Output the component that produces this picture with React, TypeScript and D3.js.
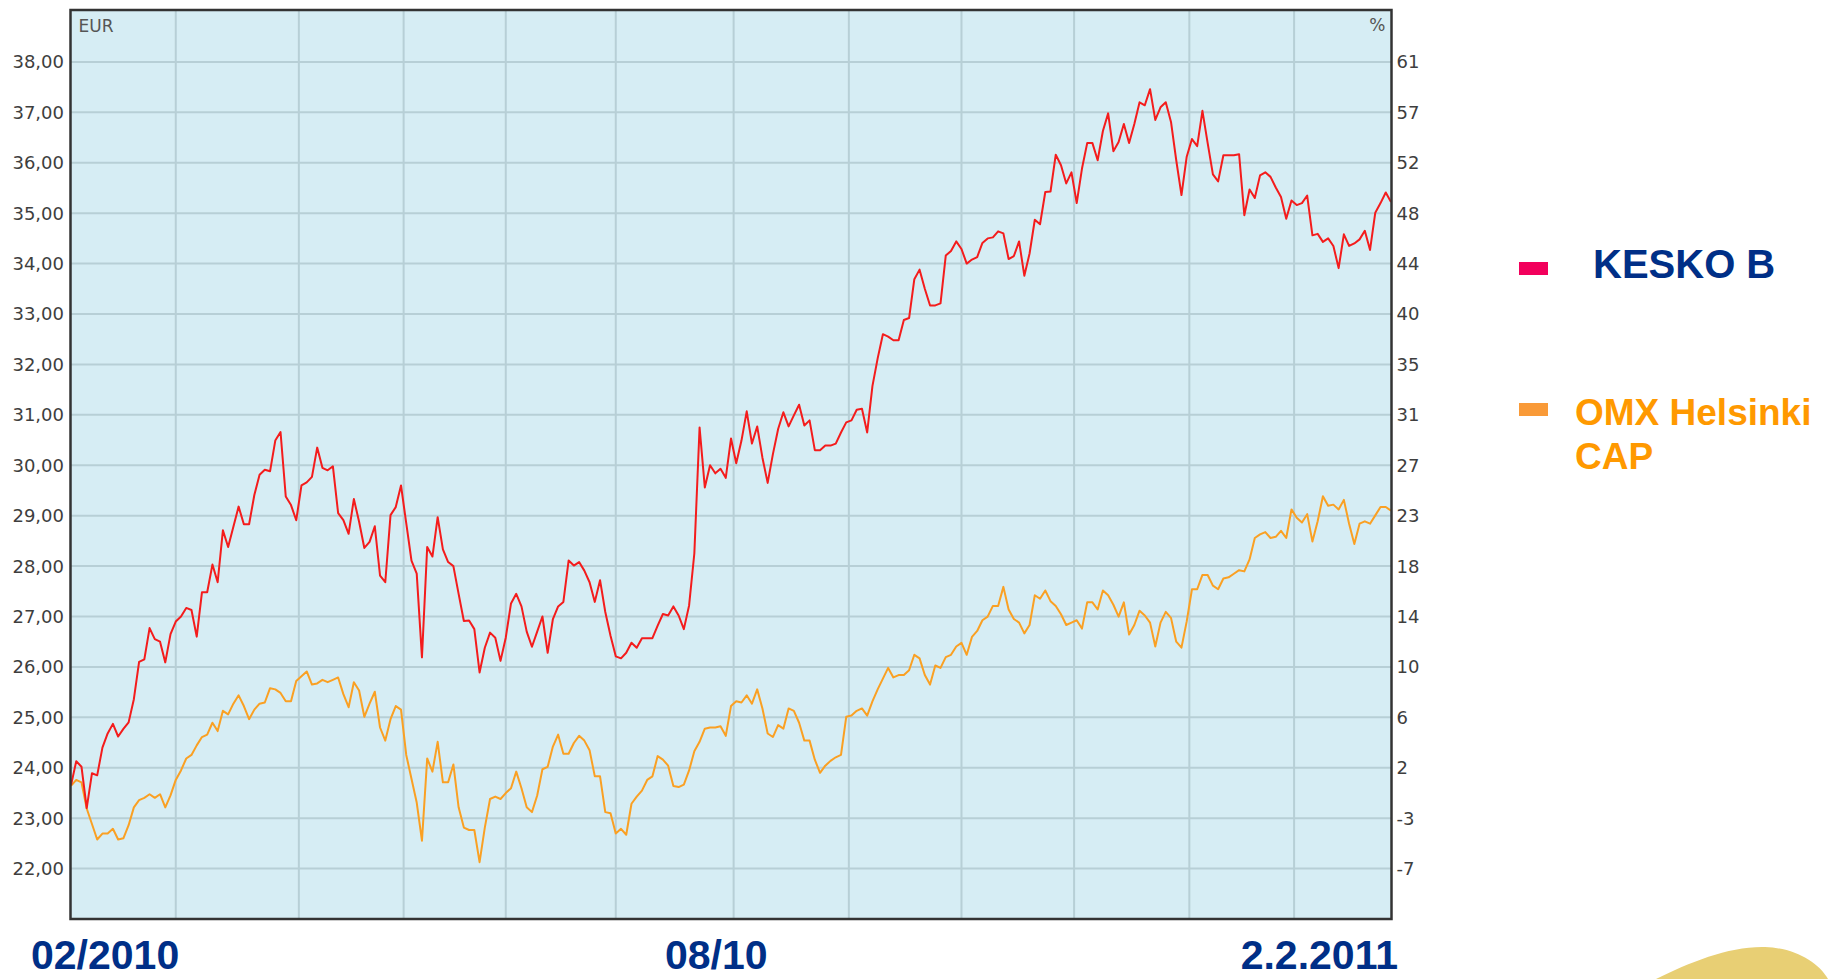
import React from "react";
import * as d3 from "d3";

const width = 1835;
const height = 979;
const plot = { left: 70.5, right: 1391.5, top: 10, bottom: 919 };

// price level that equals 0 % on the right axis
const BASE_PRICE = 23.64;

const eurTicks = [22, 23, 24, 25, 26, 27, 28, 29, 30, 31, 32, 33, 34, 35, 36, 37, 38];
const pctTicks = ["-7", "-3", "2", "6", "10", "14", "18", "23", "27", "31", "35", "40", "44", "48", "52", "57", "61"];

// month boundaries, in trading days from the first point
const monthBreaks = [20, 43.5, 63.5, 83, 104, 126.5, 148.5, 170, 191.5, 213.5, 233.5];

// KESKO B closing price, EUR
const kesko = [
  23.65, 24.13, 24.02, 23.2, 23.89, 23.85, 24.4, 24.68, 24.87, 24.62, 24.77, 24.9, 25.36, 26.1, 26.15, 26.77, 26.55, 26.5, 26.09, 26.65, 26.9, 27.0,
  27.17, 27.13, 26.6, 27.48, 27.48, 28.03, 27.68, 28.71, 28.38, 28.78, 29.18, 28.83, 28.83, 29.41, 29.81, 29.91, 29.88, 30.49, 30.66, 29.38, 29.21, 28.91,
  29.6, 29.66, 29.77, 30.35, 29.95, 29.9, 29.98, 29.05, 28.91, 28.64, 29.33, 28.88, 28.36, 28.48, 28.79, 27.81, 27.68, 29.01, 29.17, 29.6, 28.85, 28.11,
  27.85, 26.19, 28.38, 28.19, 28.97, 28.33, 28.08, 28.0, 27.45, 26.91, 26.92, 26.75, 25.89, 26.38, 26.68, 26.58, 26.12, 26.58, 27.26, 27.45, 27.2,
  26.7, 26.4, 26.7, 27.0, 26.28, 26.95, 27.2, 27.29, 28.11, 28.01, 28.08, 27.91, 27.68, 27.29, 27.72, 27.09, 26.62, 26.21, 26.17, 26.28, 26.48,
  26.38, 26.57, 26.57, 26.57, 26.82, 27.05, 27.02, 27.2, 27.02, 26.75, 27.22, 28.25, 30.75, 29.56, 30.0, 29.84, 29.93, 29.75, 30.53, 30.04,
  30.49, 31.07, 30.43, 30.77, 30.15, 29.65, 30.22, 30.72, 31.05, 30.77, 30.99, 31.2, 30.79, 30.89, 30.3, 30.3, 30.39, 30.39, 30.43, 30.65, 30.85,
  30.89, 31.1, 31.12, 30.65, 31.57, 32.12, 32.6, 32.55, 32.48, 32.48, 32.88, 32.92, 33.69, 33.88, 33.5, 33.17, 33.17, 33.21, 34.16, 34.25, 34.44,
  34.29, 34.0, 34.08, 34.13, 34.41, 34.5, 34.52, 34.64, 34.6, 34.09, 34.15, 34.44, 33.76, 34.2, 34.87, 34.78, 35.42, 35.43, 36.16, 35.95, 35.59,
  35.81, 35.2, 35.88, 36.39, 36.39, 36.05, 36.63, 36.98, 36.23, 36.41, 36.77, 36.39, 36.77, 37.2, 37.14, 37.46, 36.85, 37.1, 37.2, 36.81,
  36.05, 35.36, 36.12, 36.47, 36.33, 37.03, 36.39, 35.77, 35.63, 36.15, 36.15, 36.15, 36.17, 34.96, 35.47, 35.3, 35.75, 35.81, 35.72, 35.51, 35.32,
  34.89, 35.25, 35.16, 35.2, 35.35, 34.56, 34.59, 34.43, 34.5, 34.35, 33.91, 34.58, 34.35, 34.4, 34.48, 34.65, 34.27, 35.01, 35.2, 35.41, 35.22,
];

// OMX Helsinki CAP, change in %
const omxPct = [
  0.0, 0.5, 0.3, -1.9, -3.2, -4.5, -4.0, -4.0, -3.6, -4.5, -4.4, -3.3, -1.8, -1.2, -1.0, -0.7, -1.0, -0.7, -1.8, -0.8, 0.5, 1.3,
  2.3, 2.6, 3.4, 4.1, 4.3, 5.3, 4.6, 6.3, 6.0, 6.9, 7.6, 6.7, 5.6, 6.4, 6.9, 7.0, 8.2, 8.1, 7.8, 7.1, 7.1, 8.8,
  9.2, 9.6, 8.5, 8.6, 8.9, 8.7, 8.9, 9.1, 7.7, 6.6, 8.7, 8.0, 5.8, 6.9, 7.9, 4.9, 3.8, 5.6, 6.7, 6.4, 2.6, 0.6,
  -1.4, -4.6, 2.3, 1.2, 3.7, 0.3, 0.3, 1.8, -1.8, -3.5, -3.7, -3.7, -6.4, -3.5, -1.1, -0.9, -1.1, -0.6, -0.2, 1.2, -0.2,
  -1.8, -2.2, -0.8, 1.4, 1.6, 3.3, 4.3, 2.7, 2.7, 3.6, 4.2, 3.8, 3.0, 0.8, 0.8, -2.2, -2.3, -4.0, -3.6, -4.1, -1.5,
  -0.9, -0.4, 0.5, 0.8, 2.5, 2.2, 1.7, 0.0, -0.1, 0.1, 1.3, 2.9, 3.7, 4.8, 4.9, 4.9, 5.0, 4.2, 6.7, 7.1,
  7.0, 7.6, 6.9, 8.1, 6.5, 4.4, 4.1, 5.1, 4.8, 6.5, 6.3, 5.3, 3.8, 3.8, 2.2, 1.1, 1.7, 2.1, 2.4, 2.6, 5.8,
  5.9, 6.3, 6.5, 5.9, 7.1, 8.1, 9.0, 9.9, 9.1, 9.3, 9.3, 9.7, 11.0, 10.7, 9.3, 8.5, 10.1, 9.9, 10.8, 11.0, 11.7,
  12.0, 11.0, 12.5, 13.0, 13.9, 14.2, 15.1, 15.1, 16.7, 14.8, 14.0, 13.7, 12.8, 13.5, 16.0, 15.7, 16.4, 15.5, 15.1, 14.4, 13.5,
  13.7, 13.9, 13.2, 15.4, 15.4, 14.8, 16.4, 16.0, 15.2, 14.2, 15.4, 12.7, 13.5, 14.7, 14.3, 13.7, 11.7, 13.7, 14.6, 14.1,
  12.1, 11.6, 13.8, 16.5, 16.5, 17.7, 17.7, 16.8, 16.5, 17.4, 17.5, 17.8, 18.1, 18.0, 19.0, 20.8, 21.1, 21.3, 20.8, 20.9, 21.4,
  20.8, 23.2, 22.5, 22.1, 22.8, 20.5, 22.2, 24.3, 23.5, 23.6, 23.2, 24.0, 22.0, 20.3, 22.0, 22.2, 22.0, 22.7, 23.4, 23.4, 23.1,
];

const periodLabels = ["02/2010", "08/10", "2.2.2011"];
const legendItems = ["KESKO B", "OMX Helsinki CAP"];

const navy = "#002f87";

export default function App() {
  const x = d3
    .scaleLinear()
    .domain([0, kesko.length - 1])
    .range([plot.left + 0.5, plot.right - 0.5]);

  const eurDomain = [21, 39.03];
  const yEur = d3.scaleLinear().domain(eurDomain).range([plot.bottom, plot.top]);
  const yPct = d3
    .scaleLinear()
    .domain(eurDomain.map((v) => (v / BASE_PRICE - 1) * 100))
    .range([plot.bottom, plot.top]);

  const keskoLine = d3
    .line<number>()
    .x((d, i) => x(i))
    .y((d) => yEur(d));
  const omxLine = d3
    .line<number>()
    .x((d, i) => x(i))
    .y((d) => yPct(d));

  const tickFont = { fontFamily: "DejaVu Sans", fontSize: 18, fill: "#3e3e3e" };
  const bigFont = { fontFamily: "Liberation Sans, Arial, sans-serif", fontWeight: 700 };

  return (
    <svg
      width={width}
      height={height}
      style={{ position: "absolute", left: 0, top: 0, display: "block", background: "#fff" }}
    >
      <rect
        x={plot.left}
        y={plot.top}
        width={plot.right - plot.left}
        height={plot.bottom - plot.top}
        fill="#d6edf4"
      />
      {eurTicks.map((t) => (
        <line
          key={"h" + t}
          x1={plot.left}
          x2={plot.right}
          y1={yEur(t)}
          y2={yEur(t)}
          stroke="#b7cfd6"
          strokeWidth={2}
        />
      ))}
      {monthBreaks.map((m) => (
        <line
          key={"v" + m}
          x1={x(m)}
          x2={x(m)}
          y1={plot.top}
          y2={plot.bottom}
          stroke="#b7cfd6"
          strokeWidth={2}
        />
      ))}

      <path d={omxLine(omxPct) ?? ""} fill="none" stroke="#faa023" strokeWidth={2} strokeLinejoin="round" />
      <path d={keskoLine(kesko) ?? ""} fill="none" stroke="#f41c1c" strokeWidth={2} strokeLinejoin="round" />

      <rect
        x={plot.left}
        y={plot.top}
        width={plot.right - plot.left}
        height={plot.bottom - plot.top}
        fill="none"
        stroke="#333"
        strokeWidth={2.5}
      />

      <text x={plot.left + 8} y={plot.top + 22} {...tickFont} fontSize={17} fill="#555">
        EUR
      </text>
      <text x={plot.right - 6} y={plot.top + 21} {...tickFont} fontSize={17} fill="#555" textAnchor="end">
        %
      </text>

      {eurTicks.map((t) => (
        <text key={"l" + t} x={64} y={yEur(t)} dy="0.36em" textAnchor="end" {...tickFont}>
          {t.toFixed(2).replace(".", ",")}
        </text>
      ))}
      {eurTicks.map((t, i) => (
        <text key={"r" + t} x={plot.right + 5} y={yEur(t)} dy="0.36em" {...tickFont}>
          {pctTicks[i]}
        </text>
      ))}

      <text x={31} y={969} {...bigFont} fontSize={41} fill={navy}>
        {periodLabels[0]}
      </text>
      <text x={665} y={969} {...bigFont} fontSize={41} fill={navy}>
        {periodLabels[1]}
      </text>
      <text x={1398} y={969} {...bigFont} fontSize={41} fill={navy} textAnchor="end">
        {periodLabels[2]}
      </text>

      <rect x={1519} y={262} width={29} height={13} fill="#f2005c" />
      <text x={1593} y={278} {...bigFont} fontSize={40} fill={navy}>
        {legendItems[0]}
      </text>
      <rect x={1519} y={403} width={29} height={13} fill="#f99a38" />
      <text {...bigFont} fontSize={37} fill="#ff9900">
        <tspan x={1575} y={425}>
          {legendItems[1].split(" ").slice(0, 2).join(" ")}
        </tspan>
        <tspan x={1575} y={469}>
          {legendItems[1].split(" ")[2]}
        </tspan>
      </text>

      <path
        d="M1656,979 C1690,962 1730,946 1765,947 C1795,948 1818,962 1828,979 Z"
        fill="#e8cf74"
      />
    </svg>
  );
}
